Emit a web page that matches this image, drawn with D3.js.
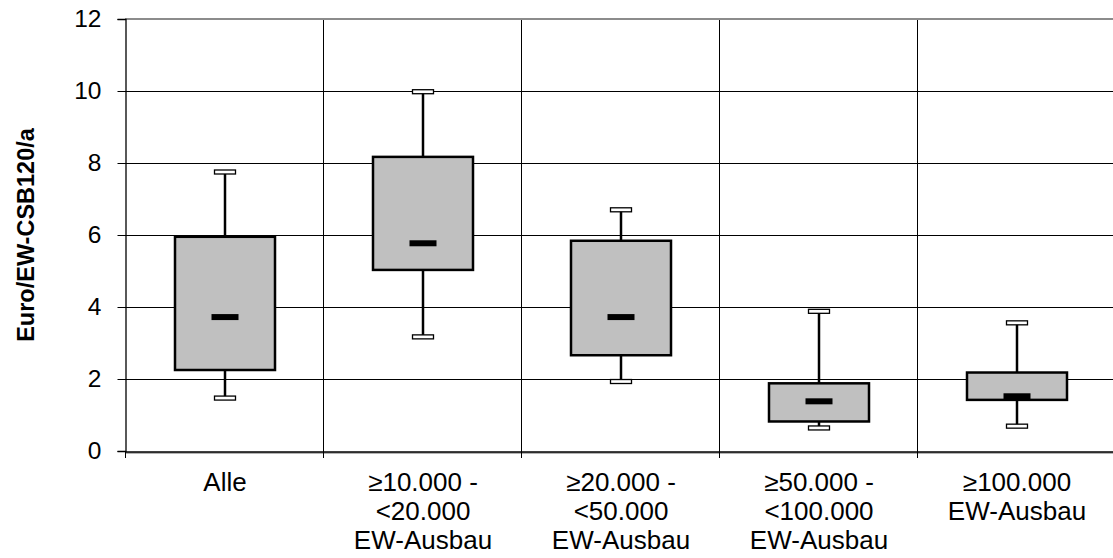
<!DOCTYPE html>
<html><head><meta charset="utf-8">
<script src="https://cdn.jsdelivr.net/npm/d3@7"></script>
<style>body{margin:0;background:#fff}svg{display:block}text{font-family:"Liberation Sans",Arial,sans-serif}</style>
</head><body>
<svg id="c" width="1113" height="558"></svg>
<script>
const categories = [["Alle"], ["≥10.000 -", "<20.000", "EW-Ausbau"], ["≥20.000 -", "<50.000", "EW-Ausbau"], ["≥50.000 -", "<100.000", "EW-Ausbau"], ["≥100.000", "EW-Ausbau"]];
const whiskerMax = [7.75, 9.98, 6.70, 3.88, 3.56];
const q3 = [5.95, 8.17, 5.84, 1.88, 2.18];
const median = [3.72, 5.77, 3.72, 1.38, 1.52];
const q1 = [2.25, 5.03, 2.66, 0.82, 1.42];
const whiskerMin = [1.47, 3.17, 1.93, 0.64, 0.69];
const yTicks = [0, 2, 4, 6, 8, 10, 12];
const yLabel = "Euro/EW-CSB120/a";

(function () {
const svg = d3.select("#c");
const left = 125, plotTop = 19, bottom = 451, bw = 198;
const idx = d3.range(categories.length);
const x = d3.scaleBand().domain(idx).range([left, left + bw * idx.length]).padding(0);
const y = d3.scaleLinear().domain([0, 12]).range([bottom, plotTop]);

// horizontal gridlines
svg.append("g").selectAll("line").data(yTicks.filter(t => t > 0 && t < 12)).join("line")
  .attr("x1", left).attr("x2", x.range()[1]).attr("y1", d => y(d) + 0.5).attr("y2", d => y(d) + 0.5)
  .attr("stroke", "#000").attr("stroke-width", 1);
// vertical gridlines at band boundaries
svg.append("g").selectAll("line").data(idx.slice(1)).join("line")
  .attr("x1", d => x(d) + 0.5).attr("x2", d => x(d) + 0.5).attr("y1", plotTop).attr("y2", bottom)
  .attr("stroke", "#000").attr("stroke-width", 1);
// plot border (gray)
svg.append("line").attr("x1", left).attr("x2", x.range()[1]).attr("y1", plotTop).attr("y2", plotTop)
  .attr("stroke", "#8c8c8c").attr("stroke-width", 2);
svg.append("line").attr("x1", left).attr("x2", x.range()[1]).attr("y1", bottom + 2).attr("y2", bottom + 2)
  .attr("stroke", "#9a9a9a").attr("stroke-width", 1.5);

// y axis
const yAxis = svg.append("g").attr("transform", `translate(${left + 0.5},0)`)
  .call(d3.axisLeft(y).tickValues(yTicks).tickSize(8).tickPadding(16).tickFormat(d3.format("d")));
yAxis.select(".domain").attr("stroke", "#000").attr("stroke-width", 1.3);
yAxis.selectAll(".tick line").attr("stroke", "#000");
yAxis.selectAll("text").attr("font-size", 24.5).attr("fill", "#000").attr("font-family", "Liberation Sans, Arial, sans-serif");

// x axis
const xAxis = svg.append("g").attr("transform", `translate(0,${bottom + 0.5})`)
  .call(d3.axisBottom(x).tickSize(0).tickFormat(""));
xAxis.select(".domain").attr("stroke", "#000").attr("stroke-width", 1.3);
svg.append("g").selectAll("line").data(idx.concat([idx.length])).join("line")
  .attr("x1", d => left + bw * d + 0.5).attr("x2", d => left + bw * d + 0.5)
  .attr("y1", bottom).attr("y2", bottom + 7).attr("stroke", "#000");

// x labels
const lab = svg.append("g").selectAll("text").data(idx).join("text")
  .attr("x", d => x(d) + x.bandwidth() / 2 + 1).attr("y", 491)
  .attr("text-anchor", "middle").attr("font-size", 26).attr("fill", "#000");
lab.selectAll("tspan").data(d => categories[d]).join("tspan")
  .attr("x", function () { return this.parentNode.getAttribute("x"); })
  .attr("dy", (d, i) => i === 0 ? 0 : 29).text(d => d);

// y label
svg.append("text").attr("transform", `translate(34,235) rotate(-90)`)
  .attr("text-anchor", "middle").attr("font-size", 23.5).attr("font-weight", "bold").text(yLabel);

// boxes
const boxW = 100, capW = 21, medW = 27;
const g = svg.append("g").selectAll("g").data(idx).join("g");
const cx = d => x(d) + x.bandwidth() / 2 + 1;
g.append("line").attr("x1", cx).attr("x2", cx).attr("y1", d => y(whiskerMax[d])).attr("y2", d => y(whiskerMin[d]))
  .attr("stroke", "#000").attr("stroke-width", 2.5);
g.append("rect").attr("x", d => cx(d) - boxW / 2).attr("width", boxW)
  .attr("y", d => y(q3[d])).attr("height", d => y(q1[d]) - y(q3[d]))
  .attr("fill", "#c0c0c0").attr("stroke", "#000").attr("stroke-width", 2.5);
[whiskerMax, whiskerMin].forEach(arr => {
  g.append("rect").attr("x", d => cx(d) - capW / 2).attr("width", capW)
    .attr("y", d => y(arr[d]) - 2).attr("height", 4)
    .attr("fill", "#fff").attr("stroke", "#000").attr("stroke-width", 1.3);
});
g.append("rect").attr("x", d => cx(d) - medW / 2).attr("width", medW)
  .attr("y", d => y(median[d]) - 3).attr("height", 6).attr("fill", "#000");
})();
</script>
</body></html>
